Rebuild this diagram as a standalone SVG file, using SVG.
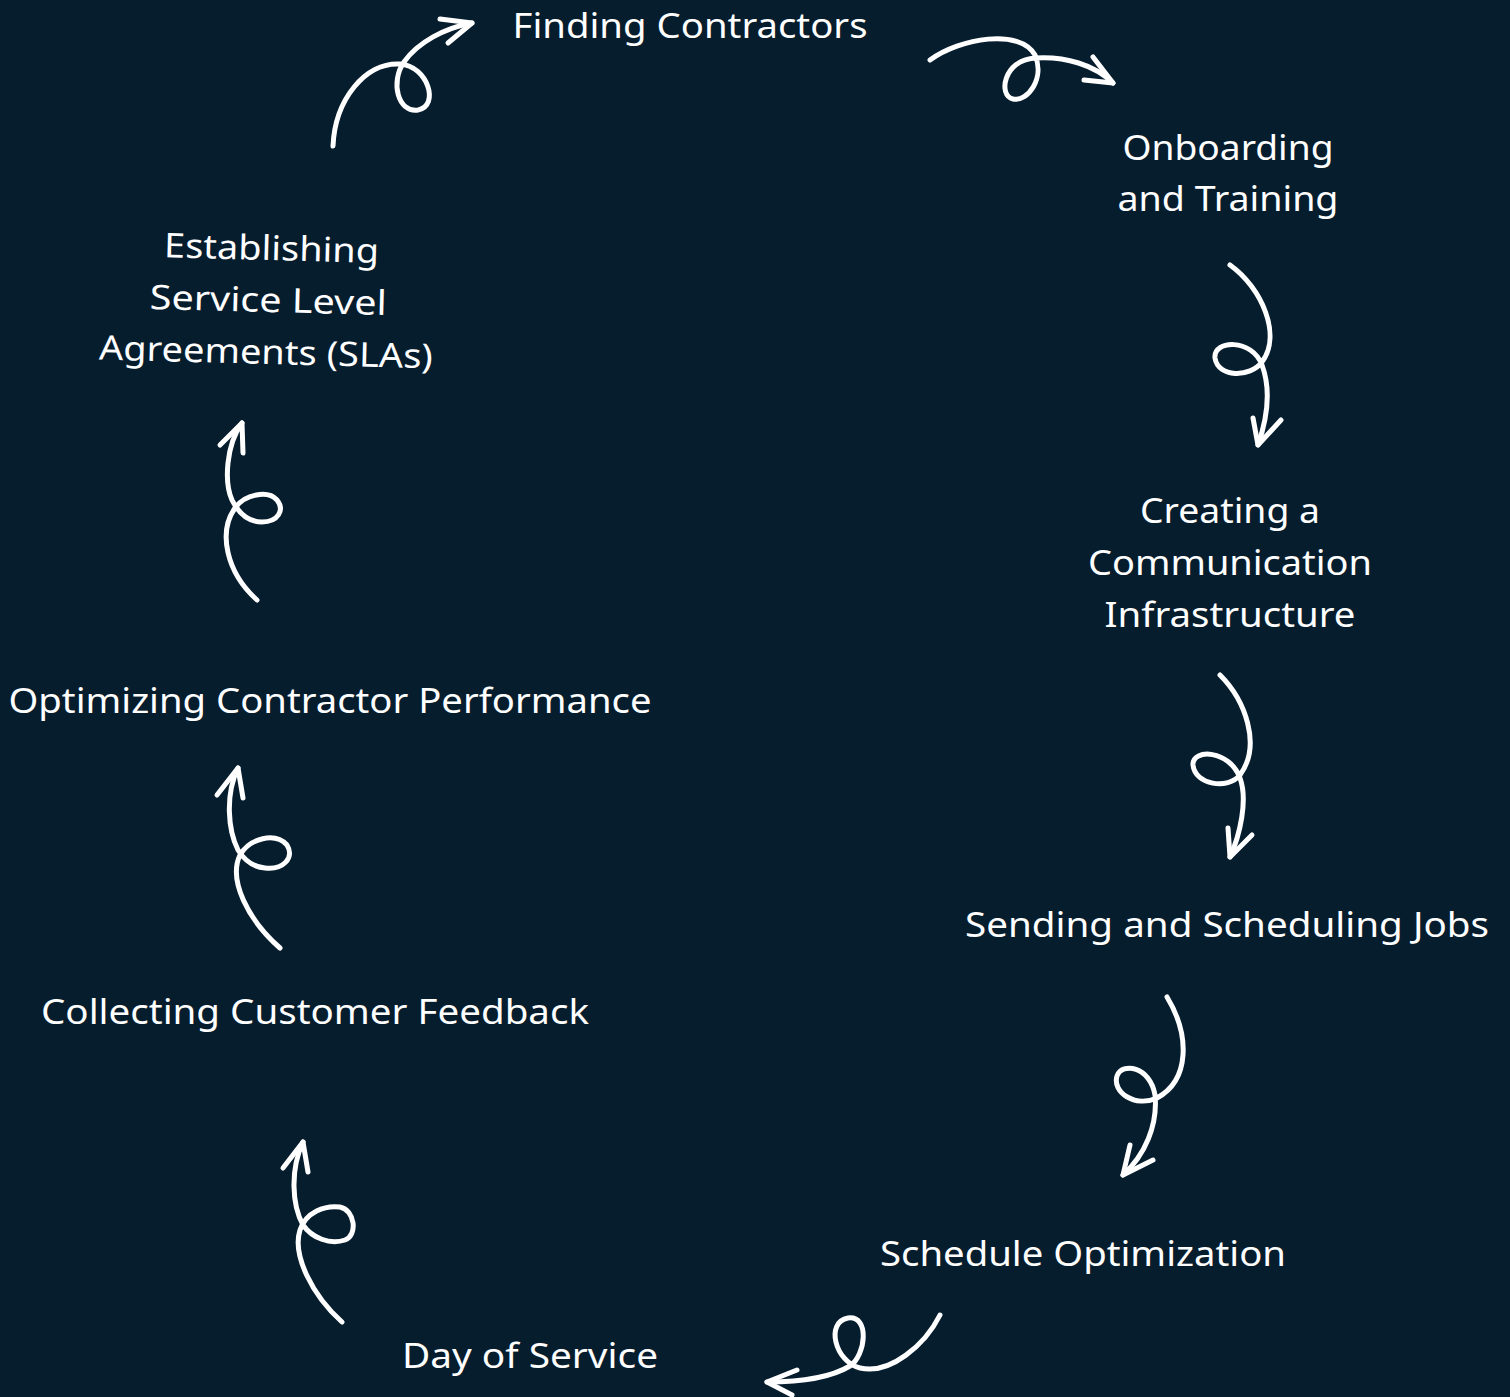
<svg xmlns="http://www.w3.org/2000/svg" width="1510" height="1397" viewBox="0 0 1510 1397">
  <style>
    .bg { fill: #061d2e; }
    .label { font-family: "Noto Sans", "Open Sans", "Liberation Sans", sans-serif; font-size: 34px; fill: #ffffff; text-anchor: middle; }
    .curl { fill: none; stroke: #ffffff; stroke-width: 5; stroke-linecap: round; stroke-linejoin: round; }
  </style>
  <rect class="bg" x="0" y="0" width="1510" height="1397"/>

  <!-- process steps -->
  <g id="finding-contractors">
    <text class="label" x="690" y="38" textLength="355" lengthAdjust="spacingAndGlyphs">Finding Contractors</text>
  </g>
  <g id="onboarding-training">
    <text class="label" x="1228" y="160" textLength="211" lengthAdjust="spacingAndGlyphs">Onboarding</text>
    <text class="label" x="1228" y="211" textLength="221" lengthAdjust="spacingAndGlyphs">and Training</text>
  </g>
  <g id="communication-infrastructure">
    <text class="label" x="1230" y="523" textLength="180" lengthAdjust="spacingAndGlyphs">Creating a</text>
    <text class="label" x="1230" y="575" textLength="284" lengthAdjust="spacingAndGlyphs">Communication</text>
    <text class="label" x="1230" y="627" textLength="251" lengthAdjust="spacingAndGlyphs">Infrastructure</text>
  </g>
  <g id="sending-scheduling">
    <text class="label" x="1227" y="937" textLength="524" lengthAdjust="spacingAndGlyphs">Sending and Scheduling Jobs</text>
  </g>
  <g id="schedule-optimization">
    <text class="label" x="1083" y="1266" textLength="406" lengthAdjust="spacingAndGlyphs">Schedule Optimization</text>
  </g>
  <g id="day-of-service">
    <text class="label" x="530" y="1368" textLength="256" lengthAdjust="spacingAndGlyphs">Day of Service</text>
  </g>
  <g id="customer-feedback">
    <text class="label" x="315" y="1024" textLength="548" lengthAdjust="spacingAndGlyphs">Collecting Customer Feedback</text>
  </g>
  <g id="contractor-performance">
    <text class="label" x="330" y="713" textLength="643" lengthAdjust="spacingAndGlyphs">Optimizing Contractor Performance</text>
  </g>
  <g id="service-level-agreements" transform="rotate(1.5 268 310)">
    <text class="label" x="270" y="260" textLength="215" lengthAdjust="spacingAndGlyphs">Establishing</text>
    <text class="label" x="268" y="312" textLength="237" lengthAdjust="spacingAndGlyphs">Service Level</text>
    <text class="label" x="267" y="364" textLength="334" lengthAdjust="spacingAndGlyphs">Agreements (SLAs)</text>
  </g>

  <!-- looped hand-drawn arrows between steps -->
  <g id="connectors" class="curl">
    <path d="M333,146 C335,100 365,62 400,64 C428,66 440,106 418,110 C398,113 390,82 404,62 C418,42 445,28 472,23"/>
    <path d="M440,19 L472,23 L448,43"/>

    <path d="M930,60 C960,38 1020,28 1035,55 C1045,78 1028,102 1013,99 C998,96 1003,60 1035,58 C1065,56 1095,65 1113,83"/>
    <path d="M1093,57 L1113,83 L1084,80"/>

    <path d="M1230,265 C1262,288 1282,335 1262,362 C1250,378 1218,378 1215,358 C1213,340 1252,338 1262,365 C1272,392 1266,422 1258,445"/>
    <path d="M1253,418 L1258,445 L1281,420"/>

    <path d="M1220,675 C1245,700 1262,745 1240,775 C1228,790 1195,785 1193,765 C1192,748 1230,750 1240,778 C1248,800 1240,835 1230,857"/>
    <path d="M1228,828 L1230,857 L1252,835"/>

    <path d="M1167,997 C1190,1035 1190,1080 1157,1098 C1135,1108 1112,1092 1117,1076 C1122,1062 1150,1066 1155,1095 C1158,1125 1145,1155 1123,1175"/>
    <path d="M1130,1145 L1123,1175 L1153,1160"/>

    <path d="M940,1315 C925,1345 890,1375 860,1368 C835,1362 825,1322 848,1318 C870,1315 866,1355 850,1366 C830,1378 800,1382 767,1382"/>
    <path d="M797,1370 L767,1382 L792,1395"/>

    <path d="M342,1322 C312,1295 292,1255 300,1230 C306,1212 325,1205 340,1207 C355,1210 358,1235 345,1240 C330,1245 312,1238 303,1225 C292,1205 290,1170 303,1142"/>
    <path d="M283,1168 L303,1142 L308,1172"/>

    <path d="M280,948 C248,920 228,880 240,855 C250,838 275,832 287,845 C295,858 283,870 265,868 C252,867 243,858 238,850 C228,830 225,795 238,768"/>
    <path d="M217,795 L238,768 L243,798"/>

    <path d="M257,600 C226,572 218,532 235,508 C245,494 268,490 277,500 C285,510 278,522 262,522 C248,522 238,512 232,500 C224,482 226,445 242,423"/>
    <path d="M220,445 L242,423 L243,453"/>
  </g>
</svg>
